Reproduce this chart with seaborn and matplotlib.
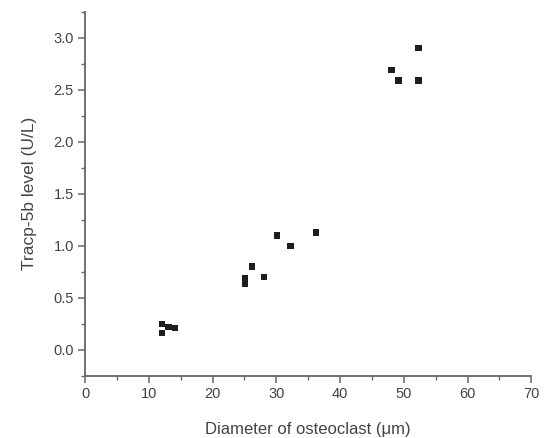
import numpy as np
import pandas as pd
import matplotlib
matplotlib.use("Agg")
import matplotlib.pyplot as plt
from matplotlib.ticker import MultipleLocator, FormatStrFormatter
import seaborn as sns

sns.set_style("ticks")
plt.rcParams['font.family'] = ['Liberation Sans', 'DejaVu Sans']

# values
diameter = [12.1, 13.1, 14.1, 12.1, 25.1, 25.1, 26.2, 28.1, 30.1, 32.2, 36.2, 48.1, 49.2, 52.3, 52.3]
tracp = [0.25, 0.22, 0.21, 0.16, 0.64, 0.69, 0.80, 0.70, 1.10, 1.00, 1.13, 2.69, 2.59, 2.90, 2.59]

df = pd.DataFrame({"diameter": diameter, "tracp": tracp})

fig = plt.figure(figsize=(5.45, 4.38), dpi=100)
ax = fig.add_axes([0.156, 0.142, 0.819, 0.831])

sns.scatterplot(data=df, x="diameter", y="tracp", marker="s", s=22,
                color="#1e1e1e", edgecolor="none", ax=ax)

ax.set_xlim(0, 70)
ax.set_ylim(-0.25, 3.25)
ax.xaxis.set_major_locator(MultipleLocator(10))
ax.xaxis.set_minor_locator(MultipleLocator(5))
ax.yaxis.set_major_locator(MultipleLocator(0.5))
ax.yaxis.set_minor_locator(MultipleLocator(0.25))
ax.yaxis.set_major_formatter(FormatStrFormatter("%.1f"))

sns.despine(ax=ax)
for side in ["left", "bottom"]:
    ax.spines[side].set_color("#666666")
    ax.spines[side].set_linewidth(1.3)
ax.tick_params(which="major", length=5, width=1.1, color="#666666",
               labelsize=10.5, labelcolor="#444444", pad=3)
ax.tick_params(which="minor", length=3, width=1.0, color="#666666")

ax.set_xlabel("Diameter of osteoclast (μm)", fontsize=12, color="#444444", labelpad=15)
ax.set_ylabel("Tracp-5b level (U/L)", fontsize=12.5, color="#444444", labelpad=12)

fig.savefig("out.png", dpi=100)
